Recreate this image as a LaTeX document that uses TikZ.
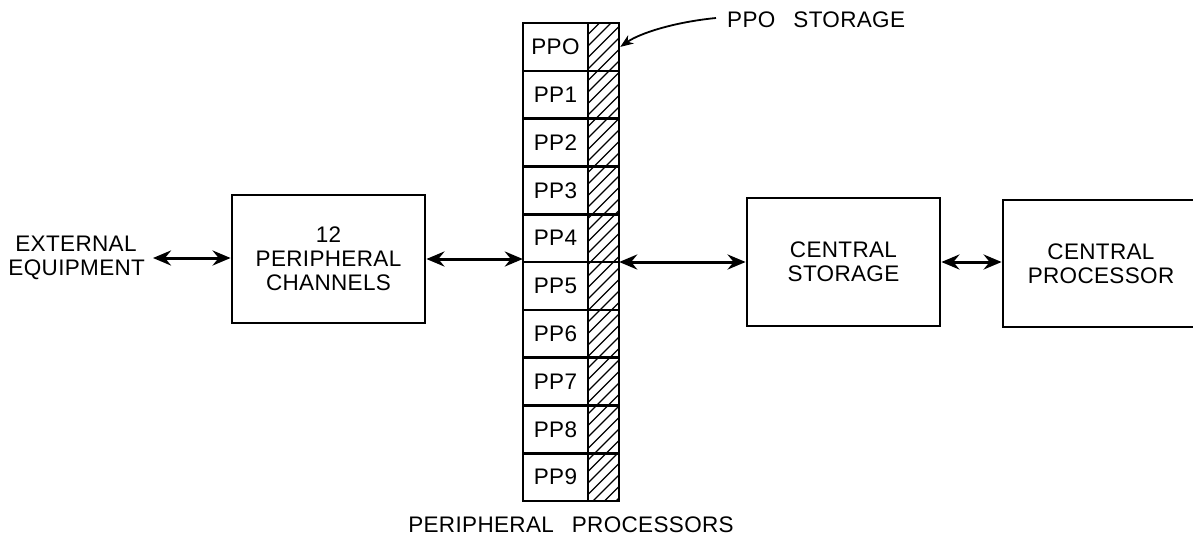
\documentclass[tikz,border=0pt]{standalone}
\usepackage{fontspec}
\setmainfont{Liberation Sans}[LetterSpace=1.5]
\usetikzlibrary{arrows.meta}
\begin{document}
\begin{tikzpicture}[x=1pt,y=-1pt,
  lettering/.style={font=\fontsize{22.5}{24}\selectfont},
  box/.style={draw, line width=2.8pt, inner sep=0pt, align=center, lettering},
  txt/.style={align=center, inner sep=0pt, lettering},
  tip/.style={Stealth[length=18pt,width=15pt,inset=6pt]},
  link/.style={line width=3pt, {Stealth[length=18pt,width=15pt,inset=6pt]}-{Stealth[length=18pt,width=15pt,inset=6pt]}},
  cell/.style={draw, line width=2.6pt, minimum width=65pt, minimum height=47.8pt, inner sep=0pt, lettering},
  hcell/.style={draw, line width=2.6pt, minimum width=31pt, minimum height=47.8pt, inner sep=0pt},
  hatch/.style={line width=1.2pt},
  pointer/.style={line width=1.8pt, -{Stealth[length=13pt,width=10pt,inset=4pt]}}
]
\useasboundingbox (0,0) rectangle (1193,544);

% external equipment
\node[txt, text width=135pt] (ext) at (76,258) {EXTERNAL\\EQUIPMENT};

% peripheral channels
\node[box, minimum width=193pt, minimum height=128pt] (chan) at (328.5,259) {12\\PERIPHERAL\\CHANNELS};

% peripheral processors column
\node[inner sep=0pt, minimum width=96pt, minimum height=478pt] (pp) at (571,262) {};
\begin{scope}
  \clip (588,23) rectangle (619,501);
  \foreach \k in {0,...,46} \draw[hatch] (588,23+\k*11.5) -- ++(40,-40);
\end{scope}
\foreach \i in {0,...,9} {
  \node[cell] (c\i) at (555.5,{23+47.8*(\i+0.5)}) {\ifnum\i=0 PPO\else PP\i\fi};
  \node[hcell] (h\i) at (603.5,{23+47.8*(\i+0.5)}) {};
}
\node[txt] (pplabel) at (571,525) {PERIPHERAL\hspace{0.8em}PROCESSORS};

% PPO storage label
\node[txt, anchor=west] (ppos) at (727,20) {PPO\hspace{0.8em}STORAGE};
\coordinate (pposstart) at (716,18);
\draw[pointer] (pposstart) .. controls (675,22) and (640,33) .. (h0.east);

% central storage and processor
\node[box, minimum width=193pt, minimum height=128pt] (store) at (843.5,262) {CENTRAL\\STORAGE};
\node[box, minimum width=196pt, minimum height=127pt] (proc) at (1101,263.5) {CENTRAL\\PROCESSOR};

% connectors
\coordinate (extr) at (153,258);
\draw[link] (extr) -- (extr -| chan.west);
\draw[link] (chan.east) -- (chan.east -| pp.west);
\draw[link] (pp.east |- store.west) -- (store.west);
\draw[link] (store.east) -- (store.east -| proc.west);
\end{tikzpicture}
\end{document}
